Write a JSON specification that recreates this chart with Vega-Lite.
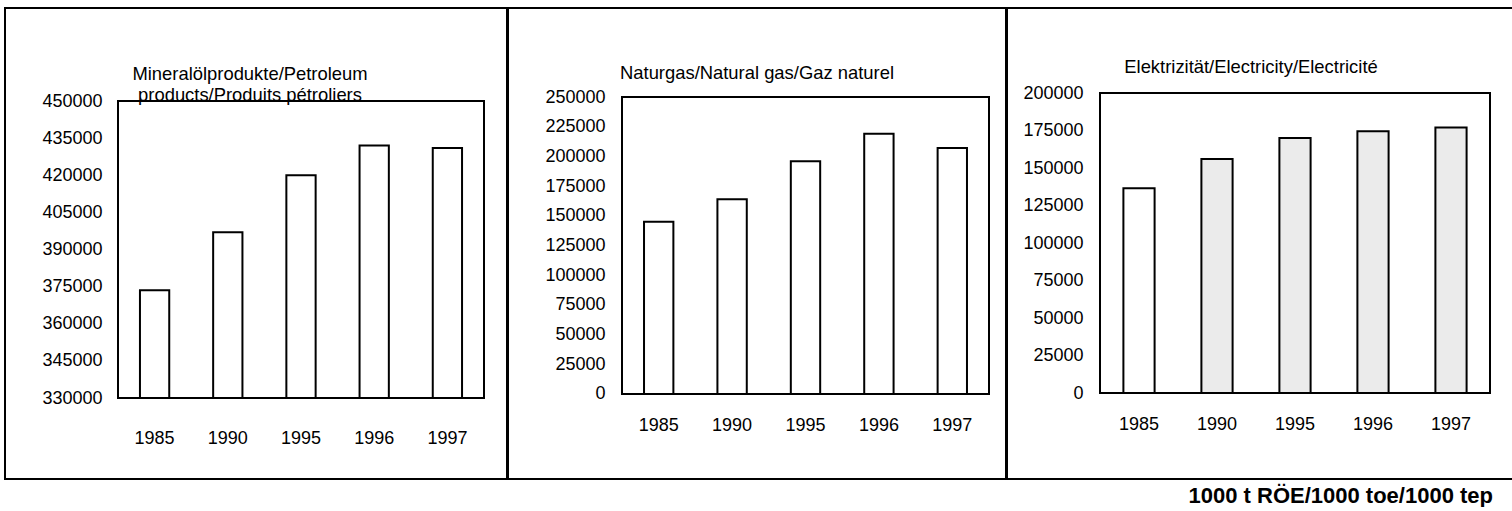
{
  "$schema": "https://vega.github.io/schema/vega-lite/v6.json",
  "padding": {"left": 4, "top": 7, "right": 2, "bottom": 0},
  "spacing": -2,
  "config": {
    "font": "Liberation Sans",
    "view": {"stroke": "black", "strokeWidth": 2},
    "axis": {"domain": false, "ticks": false, "grid": false, "labelFontSize": 18, "labelColor": "black", "labelFont": "Liberation Sans", "title": null},
    "title": {"font": "Liberation Sans", "fontWeight": "normal", "fontSize": 18.4, "color": "black", "anchor": "middle", "lineHeight": 21}
  },
  "title": {"text": "1000 t RÖE/1000 toe/1000 tep", "orient": "bottom", "anchor": "end", "fontSize": 22, "fontWeight": "bold", "offset": 6, "dx": -21},
  "hconcat": [
    {
      "width": 502, "height": 471,
      "title": {"text": ["Mineralölprodukte/Petroleum", "products/Produits pétroliers"], "offset": -96, "dx": -6},
      "data": {"values": [
        {"year": "1985", "value": 373500},
        {"year": "1990", "value": 397000},
        {"year": "1995", "value": 420000},
        {"year": "1996", "value": 432000},
        {"year": "1997", "value": 431000}
      ]},
      "layer": [
        {
          "mark": {"type": "bar", "fill": "white", "stroke": "black", "strokeWidth": 2},
          "encoding": {
            "x": {"field": "year", "type": "nominal",
              "scale": {"type": "band", "domain": ["1985", "1990", "1995", "1996", "1997"], "range": [113, 479], "paddingInner": 0.6, "paddingOuter": 0.3},
              "axis": {"orient": "bottom", "offset": -81, "labelPadding": 40, "labelBaseline": "middle", "labelAngle": 0, "bandPosition": 0.5}},
            "y": {"field": "value", "type": "quantitative",
              "scale": {"domain": [297273, 487576], "nice": false, "zero": false},
              "axis": {"orient": "left", "offset": -113, "labelPadding": 16, "format": "d", "values": [330000, 345000, 360000, 375000, 390000, 405000, 420000, 435000, 450000]}},
            "y2": {"datum": 330000}
          }
        },
        {
          "data": {"values": [{}]},
          "mark": {"type": "rect", "fill": null, "stroke": "black", "strokeWidth": 2},
          "encoding": {
            "x": {"datum": "1985", "bandPosition": -0.75},
            "x2": {"datum": "1997", "bandPosition": 1.75},
            "y": {"datum": 330000},
            "y2": {"datum": 450000}
          }
        }
      ]
    },
    {
      "width": 498, "height": 471,
      "title": {"text": "Naturgas/Natural gas/Gaz naturel", "offset": -74},
      "data": {"values": [
        {"year": "1985", "value": 145000},
        {"year": "1990", "value": 164000},
        {"year": "1995", "value": 196000},
        {"year": "1996", "value": 219000},
        {"year": "1997", "value": 207000}
      ]},
      "layer": [
        {
          "mark": {"type": "bar", "fill": "white", "stroke": "black", "strokeWidth": 2},
          "encoding": {
            "x": {"field": "year", "type": "nominal",
              "scale": {"type": "band", "domain": ["1985", "1990", "1995", "1996", "1997"], "range": [114, 481], "paddingInner": 0.6, "paddingOuter": 0.3},
              "axis": {"orient": "bottom", "offset": -85, "labelPadding": 31, "labelBaseline": "middle", "labelAngle": 0, "bandPosition": 0.5}},
            "y": {"field": "value", "type": "quantitative",
              "scale": {"domain": [-71549, 324916], "nice": false, "zero": false},
              "axis": {"orient": "left", "offset": -114, "labelPadding": 17, "format": "d", "values": [0, 25000, 50000, 75000, 100000, 125000, 150000, 175000, 200000, 225000, 250000]}},
            "y2": {"datum": 0}
          }
        },
        {
          "data": {"values": [{}]},
          "mark": {"type": "rect", "fill": null, "stroke": "black", "strokeWidth": 2},
          "encoding": {
            "x": {"datum": "1985", "bandPosition": -0.75},
            "x2": {"datum": "1997", "bandPosition": 1.75},
            "y": {"datum": 0},
            "y2": {"datum": 250000}
          }
        }
      ]
    },
    {
      "width": 506, "height": 471,
      "title": {"text": "Elektrizität/Electricity/Electricité", "offset": -68, "dx": -9},
      "data": {"values": [
        {"year": "1985", "value": 136500},
        {"year": "1990", "value": 156000},
        {"year": "1995", "value": 170000},
        {"year": "1996", "value": 174500},
        {"year": "1997", "value": 177000}
      ]},
      "layer": [
        {
          "mark": {"type": "bar", "stroke": "black", "strokeWidth": 2},
          "encoding": {
            "x": {"field": "year", "type": "nominal",
              "scale": {"type": "band", "domain": ["1985", "1990", "1995", "1996", "1997"], "range": [93, 483], "paddingInner": 0.6, "paddingOuter": 0.3},
              "axis": {"orient": "bottom", "offset": -86, "labelPadding": 31, "labelBaseline": "middle", "labelAngle": 0, "bandPosition": 0.5}},
            "y": {"field": "value", "type": "quantitative",
              "scale": {"domain": [-57333, 256667], "nice": false, "zero": false},
              "axis": {"orient": "left", "offset": -93, "labelPadding": 17, "format": "d", "values": [0, 25000, 50000, 75000, 100000, 125000, 150000, 175000, 200000]}},
            "y2": {"datum": 0},
            "fill": {"condition": {"test": "datum.year !== '1985'", "value": "#ebebeb"}, "value": "white"}
          }
        },
        {
          "data": {"values": [{}]},
          "mark": {"type": "rect", "fill": null, "stroke": "black", "strokeWidth": 2},
          "encoding": {
            "x": {"datum": "1985", "bandPosition": -0.75},
            "x2": {"datum": "1997", "bandPosition": 1.75},
            "y": {"datum": 0},
            "y2": {"datum": 200000}
          }
        }
      ]
    }
  ]
}
